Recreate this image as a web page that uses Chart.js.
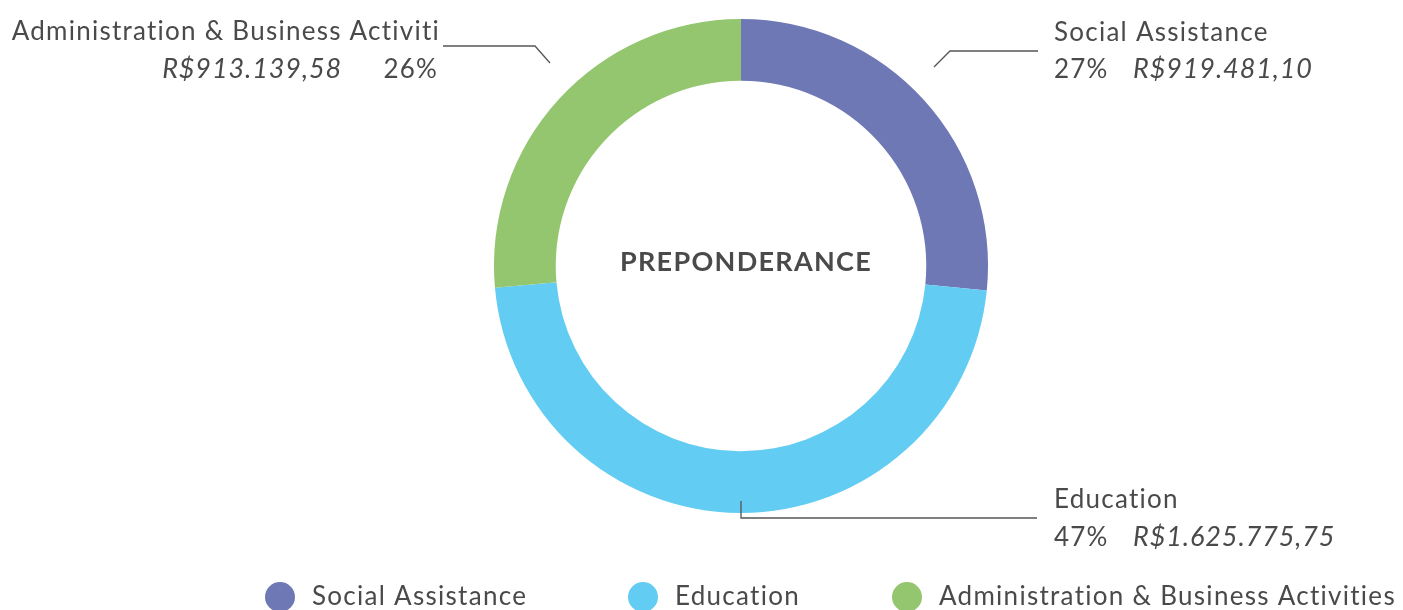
<!DOCTYPE html>
<html><head><meta charset="utf-8">
<script src="https://cdn.jsdelivr.net/npm/chart.js@4.4.0/dist/chart.umd.min.js"></script>
<style>html,body{margin:0;padding:0;background:#fff;overflow:hidden}</style>
</head><body>
<canvas id="c" width="1403" height="610"></canvas>
<script>
// ---- data ----
const categories = ['Social Assistance', 'Education', 'Administration & Business Activities'];
const calloutTitles = ['Social Assistance', 'Education', 'Administration & Business Activiti'];
const amounts = [919481.10, 1625775.75, 913139.58];
const colors = ['#6E78B5', '#63CCF2', '#93C66E'];
const centerTitle = 'PREPONDERANCE';

// ---- layout (positions only) ----
const FONT = 'Lato, "Open Sans", sans-serif';
const TEXT_COLOR = '#4a4a4a';
const calloutLayout = [
  { line: [[934, 67], [950, 51], [1038, 51]], align: 'left', x: 1054, y1: 41, y2: 78, order: ['pct', 'amt'], x2: [1054, 1133] },
  { line: [[741, 501], [741, 518], [1037, 518]], align: 'left', x: 1054, y1: 508, y2: 546, order: ['pct', 'amt'], x2: [1054, 1133] },
  { line: [[550, 63], [535, 46], [443, 46]], align: 'right', x: 440, y1: 40, y2: 78, order: ['amt', 'pct'], x2: [342, 438] }
];
const legendLayout = { xs: [280, 643, 907], y: 597, r: 15, gap: 32 };

function brl(v) {
  const parts = v.toFixed(2).split('.');
  return 'R$' + parts[0].replace(/\B(?=(\d{3})+(?!\d))/g, '.') + ',' + parts[1];
}

const overlay = {
  id: 'overlay',
  afterDraw(chart) {
    const ctx = chart.ctx;
    const meta = chart.getDatasetMeta(0);
    const arc0 = meta.data[0];
    const cx = arc0.x;
    const data = chart.data.datasets[0].data;
    const total = data.reduce((a, b) => a + b, 0);
    ctx.save();
    // center title
    ctx.fillStyle = TEXT_COLOR;
    ctx.font = '700 27px ' + FONT;
    ctx.letterSpacing = '1.3px';
    ctx.textAlign = 'center';
    ctx.textBaseline = 'alphabetic';
    ctx.fillText(centerTitle, cx + 5, 271);

    // callouts
    data.forEach((v, i) => {
      const L = calloutLayout[i];
      ctx.strokeStyle = '#555';
      ctx.lineWidth = 1.3;
      ctx.beginPath();
      L.line.forEach((p, k) => k ? ctx.lineTo(p[0], p[1]) : ctx.moveTo(p[0], p[1]));
      ctx.stroke();
      ctx.fillStyle = TEXT_COLOR;
      ctx.textAlign = L.align;
      ctx.font = '400 26px ' + FONT;
      ctx.letterSpacing = '1.25px';
      ctx.fillText(calloutTitles[i], L.x, L.y1);
      const pct = Math.round(v / total * 100) + '%';
      const amt = brl(v);
      L.order.forEach((kind, k) => {
        ctx.font = (kind === 'amt' ? 'italic 400 27px ' : '400 26px ') + FONT;
        ctx.letterSpacing = kind === 'amt' ? '0.9px' : '1.2px';
        ctx.fillText(kind === 'amt' ? amt : pct, L.x2[k], L.y2);
      });
    });

    // legend
    const bg = chart.data.datasets[0].backgroundColor;
    chart.data.labels.forEach((lab, i) => {
      const x = legendLayout.xs[i];
      ctx.fillStyle = bg[i];
      ctx.beginPath();
      ctx.arc(x, legendLayout.y, legendLayout.r, 0, Math.PI * 2);
      ctx.fill();
      ctx.fillStyle = TEXT_COLOR;
      ctx.font = '400 26px ' + FONT;
      ctx.letterSpacing = '1.28px';
      ctx.textAlign = 'left';
      ctx.textBaseline = 'middle';
      ctx.fillText(lab, x + legendLayout.gap, legendLayout.y);
      ctx.textBaseline = 'alphabetic';
    });
    ctx.restore();
  }
};

new Chart(document.getElementById('c'), {
  type: 'doughnut',
  data: {
    labels: categories,
    datasets: [{ data: amounts, backgroundColor: colors, borderWidth: 0, hoverOffset: 0 }]
  },
  options: {
    responsive: false,
    devicePixelRatio: 1,
    animation: false,
    cutout: '75%',
    layout: { padding: { left: 79, right: 0, top: 19, bottom: 97 } },
    plugins: { legend: { display: false }, tooltip: { enabled: false } }
  },
  plugins: [overlay]
});
</script>
</body></html>
